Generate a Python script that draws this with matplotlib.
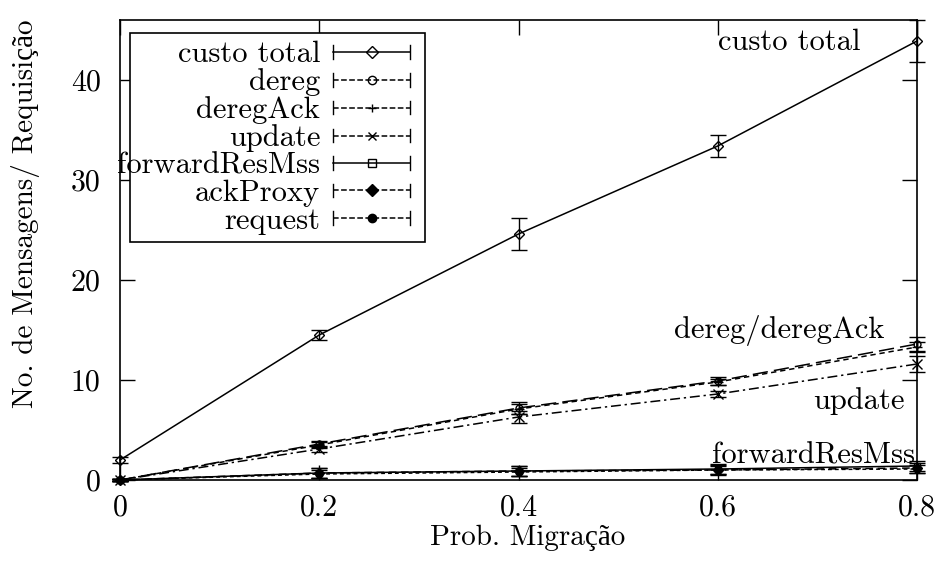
import matplotlib
matplotlib.use("Agg")
import matplotlib.pyplot as plt
from matplotlib.lines import Line2D
from matplotlib.patches import Rectangle
from matplotlib.legend_handler import HandlerBase

# fonte parecida com o LaTeX
plt.rcParams['font.family'] = ['cmr10', 'Liberation Serif']
plt.rcParams['mathtext.fontset'] = 'cm'
plt.rcParams['axes.unicode_minus'] = False

# Data
prob = [0.0, 0.2, 0.4, 0.6, 0.8]

custo_total = [2.0, 14.5, 24.6, 33.4, 43.9]
custo_total_err = [0.3, 0.5, 1.65, 1.1, 2.1]
dereg = [0.0, 3.6, 7.2, 9.9, 13.6]
dereg_err = [0.1, 0.3, 0.6, 0.4, 0.7]
deregAck = [0.0, 3.5, 7.1, 9.8, 13.3]
deregAck_err = [0.1, 0.3, 0.5, 0.3, 0.5]
update = [0.0, 3.1, 6.3, 8.6, 11.6]
update_err = [0.1, 0.3, 0.6, 0.3, 0.8]
forwardResMss = [0.0, 0.7, 0.9, 1.1, 1.4]
forwardResMss_err = [0.1, 0.5, 0.5, 0.5, 0.5]
ackProxy = [0.0, 0.7, 0.9, 1.0, 1.2]
ackProxy_err = [0.1, 0.5, 0.5, 0.5, 0.5]
request = [0.0, 0.6, 0.8, 1.0, 1.1]
request_err = [0.1, 0.4, 0.4, 0.4, 0.4]

series = [
    ('custo total', custo_total, custo_total_err, '-', 'D', 'none'),
    ('dereg', dereg, dereg_err, (0, (10, 4)), 'o', 'none'),
    ('deregAck', deregAck, deregAck_err, (0, (3.5, 2.5)), '+', 'none'),
    ('update', update, update_err, (0, (6.5, 2.5, 1.5, 2.5)), 'x', 'none'),
    ('forwardResMss', forwardResMss, forwardResMss_err, '-', 's', 'none'),
    ('ackProxy', ackProxy, ackProxy_err, (0, (5, 3)), 'D', 'black'),
    ('request', request, request_err, (0, (2.5, 2)), 'o', 'black'),
]


class CapLineHandler(HandlerBase):
    # amostra estilo gnuplot: tracinho nas pontas + marcador no meio
    def create_artists(self, legend, orig_handle, xdescent, ydescent,
                       width, height, fontsize, trans):
        y = height / 2 - ydescent
        x0, x1 = -xdescent, width - xdescent
        ln = Line2D([x0, x1], [y, y], color='black', lw=1.1,
                    linestyle=orig_handle.get_linestyle(), transform=trans)
        mk = Line2D([(x0 + x1) / 2], [y], color='black', lw=0,
                    marker=orig_handle.get_marker(), markersize=6,
                    markerfacecolor=orig_handle.get_markerfacecolor(),
                    markeredgewidth=1.0, transform=trans)
        c1 = Line2D([x0, x0], [y - 0.32 * height, y + 0.32 * height],
                    color='black', lw=1.0, transform=trans)
        c2 = Line2D([x1, x1], [y - 0.32 * height, y + 0.32 * height],
                    color='black', lw=1.0, transform=trans)
        return [ln, c1, c2, mk]


fig = plt.figure(figsize=(9.49, 5.63), dpi=100)
ax = fig.add_axes([120 / 949, 1 - 480 / 563, 797 / 949, 460 / 563])

handles = []
for name, ys, err, ls, mk, fc in series:
    ms = 7 if mk in ('+', 'x') else 5
    ax.errorbar(prob, ys, yerr=err, color='black', linestyle=ls, lw=1.1,
                marker=mk, markersize=ms, markerfacecolor=fc,
                markeredgewidth=1.0, elinewidth=1.0, capsize=6,
                capthick=1.0, clip_on=False, zorder=3)
    handles.append(Line2D([], [], color='black', linestyle=ls, marker=mk,
                          markerfacecolor=fc, label=name))

ax.set_xlim(0, 0.8)
ax.set_ylim(0, 46)
ax.set_xticks(prob)
ax.set_xticklabels(['0', '0.2', '0.4', '0.6', '0.8'])
ax.set_yticks([0, 10, 20, 30, 40])
ax.tick_params(direction='in', length=11, width=1.0, top=True, right=True,
               labelsize=21.5)
ax.tick_params(axis='x', pad=10)
ax.tick_params(axis='y', pad=14)
for s in ax.spines.values():
    s.set_linewidth(1.2)

ax.set_xlabel('Prob. Migração', fontsize=21)
ax.xaxis.set_label_coords(0.511, -0.098)
ax.set_ylabel('No. de Mensagens/ Requisição', fontsize=21)
ax.yaxis.set_label_coords(-0.1, 0.578)

# rotulos das curvas
ax.text(0.6, 43.0, 'custo total', fontsize=22, ha='left', va='baseline')
ax.text(0.767, 14.2, 'dereg/deregAck', fontsize=22, ha='right',
        va='baseline')
ax.text(0.788, 7.1, 'update', fontsize=22, ha='right', va='baseline')
ax.text(0.798, 1.6, 'forwardResMss', fontsize=22, ha='right',
        va='baseline')

# caixa da legenda (o texto sai um pouco para fora, como no original)
box = Rectangle((130 / 949, 1 - 242 / 563), 295 / 949, 209 / 563,
                transform=fig.transFigure, facecolor='white',
                edgecolor='black', lw=1.2, zorder=4)
ax.add_patch(box)

leg = ax.legend(handles=handles, handler_map={Line2D: CapLineHandler()},
                loc='upper right', bbox_to_anchor=(410 / 949, 1 - 41 / 563),
                bbox_transform=fig.transFigure, markerfirst=False,
                fontsize=22, frameon=False, borderpad=0,
                labelspacing=0.0, handlelength=2.52, handletextpad=0.42,
                borderaxespad=0)
leg.set_zorder(5)
for t in leg.get_texts():
    t.set_ha('right')
leg._legend_box.align = 'right'

fig.savefig('out.png', dpi=100)
